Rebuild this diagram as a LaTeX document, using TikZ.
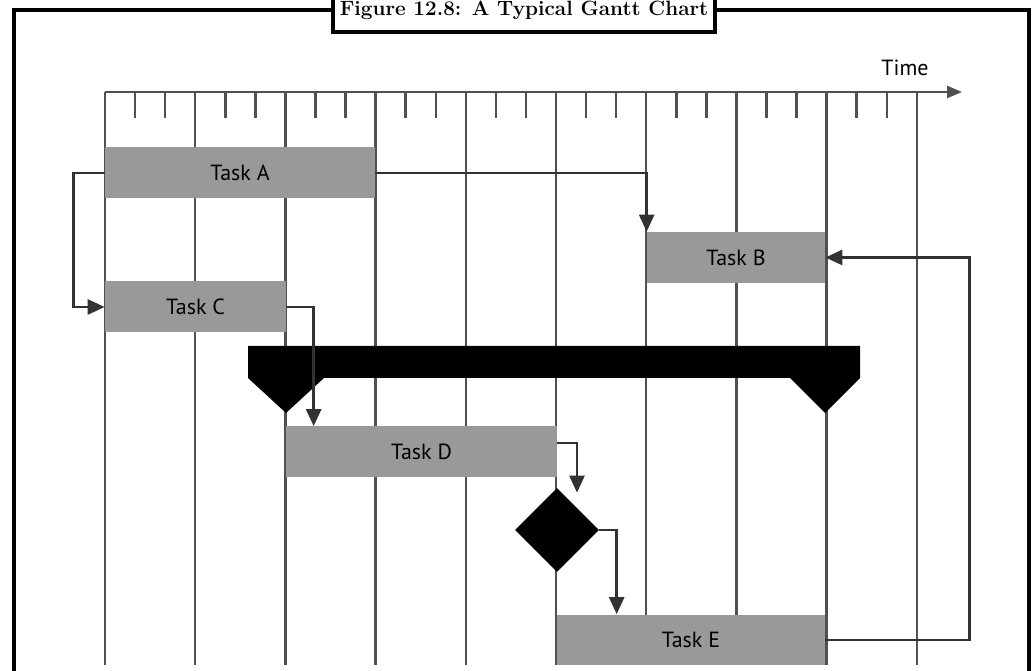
\documentclass[tikz,border=0pt]{standalone}
\usepackage{fontspec}
\setsansfont{PT Sans}
\usepackage{tikz}
\usetikzlibrary{arrows.meta,positioning,shapes.geometric}
\definecolor{taskgray}{RGB}{153,153,153}
\definecolor{linegray}{RGB}{80,80,80}
\definecolor{arrowgray}{RGB}{50,50,50}

\begin{document}
\begin{tikzpicture}[x=0.02cm,y=-0.02cm,
    task/.style={fill=taskgray,minimum height=1.02cm,inner sep=0pt,font=\sffamily\fontsize{12.5}{14}\selectfont},
    timeline/.style={linegray,line width=1.4pt},
    arr/.style={-{Triangle[length=0.34cm,width=0.3cm]},arrowgray,line width=1.5pt},
    frame/.style={black,line width=2pt},
    milestone/.style={diamond,fill=black,minimum width=1.68cm,minimum height=1.68cm,inner sep=0pt}
]
\useasboundingbox (0,0) rectangle (1032,671);
% frame and caption
\node[draw,frame,inner xsep=1pt,minimum width=7.64cm,minimum height=0.88cm,font=\bfseries\fontsize{11.8}{14}\selectfont] (title) at (524,10) {Figure 12.8: A Typical Gantt Chart};
\draw[frame] (14,671) |- (title.west);
\draw[frame] (1029,671) |- (title.east);
% time axis and columns
\foreach \i in {0,...,9}
  \draw[timeline] (105+90.2*\i,92) -- (105+90.2*\i,665);
\foreach \i in {0,...,8}{
  \draw[timeline] (135.1+90.2*\i,92) -- (135.1+90.2*\i,118);
  \draw[timeline] (165.2+90.2*\i,92) -- (165.2+90.2*\i,118);
}
\draw[timeline,-{Triangle[length=0.3cm,width=0.24cm]}] (105,92) -- (962,92);
\node[font=\sffamily\fontsize{12.5}{14}\selectfont] (time) at (905,68) {Time};
% tasks
\node[task,minimum width=5.4cm] (taskA) at (240,173) {Task A};
\node[task,minimum width=3.56cm] (taskB) at (736,257.5) {Task B};
\node[task,minimum width=3.62cm] (taskC) at (195.5,307) {Task C};
\node[task,minimum width=5.42cm] (taskD) at (421.5,452) {Task D};
\node[task,minimum width=5.36cm] (taskE) at (691,640) {Task E};
\node[milestone] (mile) at (557,530) {};
% summary bar
\fill[black] (248,346) -- (860,346) -- (860,378) -- (825,413) -- (790,378)
  -- (324,378) -- (286,413) -- (248,378) -- cycle;
% dependencies
\draw[arr] (taskA.east) -| (taskB.north west);
\draw[arr] (taskA.west) -- ++(-31,0) |- (taskC.west);
\draw[arr] (taskC.east) -| ([xshift=0.56cm]taskD.north west);
\draw[arr] ([yshift=0.18cm]taskD.east) -| ([xshift=0.4cm,yshift=-0.1cm]mile.north);
\draw[arr] (mile.east) -| ([xshift=1.2cm]taskE.north west);
\draw[arr] (taskE.east) -- ++(144,0) |- (taskB.east);
\end{tikzpicture}
\end{document}
